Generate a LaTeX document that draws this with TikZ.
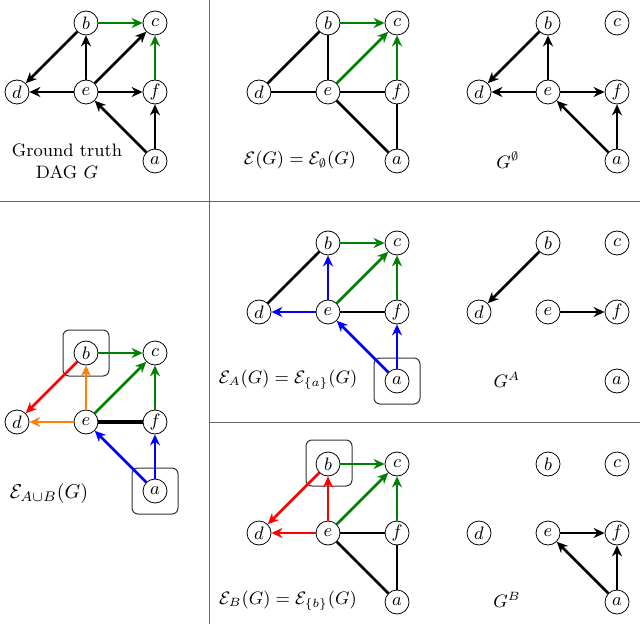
\documentclass[tikz,border=0pt]{standalone}
\usepackage{amsmath,amssymb}
\usepackage{tikz}
\usetikzlibrary{arrows.meta,positioning}
\definecolor{dagGreen}{RGB}{0,128,0}
\definecolor{dagBlue}{RGB}{0,0,255}
\definecolor{dagRed}{RGB}{255,0,0}
\definecolor{dagOrange}{RGB}{255,128,0}

% six variables of one panel, #1 = panel suffix, (#2,#3) = position of b
\newcommand{\dagnodes}[3]{%
    \node[var] (b#1) at (#2,#3) {$b$};
    \node[var, right=of b#1] (c#1) {$c$};
    \node[var, below=of b#1] (e#1) {$e$};
    \node[var, left=of e#1] (d#1) {$d$};
    \node[var, right=of e#1] (f#1) {$f$};
    \node[var, below=of f#1] (a#1) {$a$};
}

\begin{document}
\begin{tikzpicture}[
    x=0.5pt, y=-0.5pt,
    node distance=34.5pt, on grid,
    every node/.style={align=center, font=\small},
    var/.style={draw, circle, minimum size=12pt, inner sep=0pt, line width=0.4pt, fill=white},
    arc/.style={-{Stealth[length=5.5pt, width=5pt]}, line width=1.25pt},
    und/.style={line width=1.25pt},
    selbox/.style={draw=black!80, rounded corners=3pt, minimum size=23pt, line width=0.5pt},
    sep/.style={draw=black!60, line width=0.5pt}
]
    \useasboundingbox (0,0) rectangle (640,624);

    % panel separators
    \draw[sep] (209,0) -- (209,624);
    \draw[sep] (0,202) -- (640,202);
    \draw[sep] (209,422) -- (640,422);

    % ground truth
    \dagnodes{1}{86}{23}
    \draw[arc, dagGreen] (b1) -- (c1);
    \draw[arc] (b1) -- (d1);
    \draw[arc] (e1) -- (b1);
    \draw[arc] (e1) -- (c1);
    \draw[arc] (e1) -- (d1);
    \draw[arc] (e1) -- (f1);
    \draw[arc, dagGreen] (f1) -- (c1);
    \draw[arc] (a1) -- (e1);
    \draw[arc] (a1) -- (f1);
    \node (lbl1) at (67,161) {Ground truth\\DAG $G$};

    % essential graph
    \dagnodes{2}{328}{23}
    \draw[arc, dagGreen] (b2) -- (c2);
    \draw[und] (b2) -- (d2);
    \draw[und] (b2) -- (e2);
    \draw[und] (d2) -- (e2);
    \draw[arc, dagGreen] (e2) -- (c2);
    \draw[und] (e2) -- (f2);
    \draw[und] (e2) -- (a2);
    \draw[arc, dagGreen] (f2) -- (c2);
    \draw[und] (f2) -- (a2);
    \node (lbl2) at (300,160) {$\mathcal{E}(G) = \mathcal{E}_{\emptyset}(G)$};

    % G^empty
    \dagnodes{3}{548}{23}
    \draw[arc] (b3) -- (d3);
    \draw[arc] (e3) -- (b3);
    \draw[arc] (e3) -- (d3);
    \draw[arc] (e3) -- (f3);
    \draw[arc] (a3) -- (e3);
    \draw[arc] (a3) -- (f3);
    \node (lbl3) at (508,160) {$G^{\emptyset}$};

    % interventions on A and B
    \node[selbox] (box4b) at (86,353) {};
    \node[selbox] (box4a) at (155,491) {};
    \dagnodes{4}{86}{353}
    \draw[arc, dagGreen] (b4) -- (c4);
    \draw[arc, dagRed] (b4) -- (d4);
    \draw[arc, dagOrange] (e4) -- (b4);
    \draw[arc, dagOrange] (e4) -- (d4);
    \draw[arc, dagGreen] (e4) -- (c4);
    \draw[und, line width=1.8pt] (e4) -- (f4);
    \draw[arc, dagGreen] (f4) -- (c4);
    \draw[arc, dagBlue] (a4) -- (e4);
    \draw[arc, dagBlue] (a4) -- (f4);
    \node[font=\normalsize] (lbl4) at (49,493) {$\mathcal{E}_{A\cup B}(G)$};

    % intervention on A
    \node[selbox] (box5a) at (397,381) {};
    \dagnodes{5}{328}{243}
    \draw[arc, dagGreen] (b5) -- (c5);
    \draw[und] (b5) -- (d5);
    \draw[arc, dagBlue] (e5) -- (b5);
    \draw[arc, dagBlue] (e5) -- (d5);
    \draw[arc, dagGreen] (e5) -- (c5);
    \draw[und] (e5) -- (f5);
    \draw[arc, dagGreen] (f5) -- (c5);
    \draw[arc, dagBlue] (a5) -- (e5);
    \draw[arc, dagBlue] (a5) -- (f5);
    \node (lbl5) at (288,380) {$\mathcal{E}_{A}(G) = \mathcal{E}_{\{a\}}(G)$};

    % G^A
    \dagnodes{6}{548}{243}
    \draw[arc] (b6) -- (d6);
    \draw[arc] (e6) -- (f6);
    \node (lbl6) at (507,380) {$G^{A}$};

    % intervention on B
    \node[selbox] (box7b) at (329,463) {};
    \dagnodes{7}{328}{464}
    \draw[arc, dagGreen] (b7) -- (c7);
    \draw[arc, dagRed] (b7) -- (d7);
    \draw[arc, dagRed] (e7) -- (b7);
    \draw[arc, dagRed] (e7) -- (d7);
    \draw[arc, dagGreen] (e7) -- (c7);
    \draw[und] (e7) -- (f7);
    \draw[und] (e7) -- (a7);
    \draw[arc, dagGreen] (f7) -- (c7);
    \draw[und] (f7) -- (a7);
    \node (lbl7) at (288,601) {$\mathcal{E}_{B}(G) = \mathcal{E}_{\{b\}}(G)$};

    % G^B
    \dagnodes{8}{548}{464}
    \draw[arc] (e8) -- (f8);
    \draw[arc] (a8) -- (e8);
    \draw[arc] (a8) -- (f8);
    \node (lbl8) at (507,600) {$G^{B}$};
\end{tikzpicture}
\end{document}
